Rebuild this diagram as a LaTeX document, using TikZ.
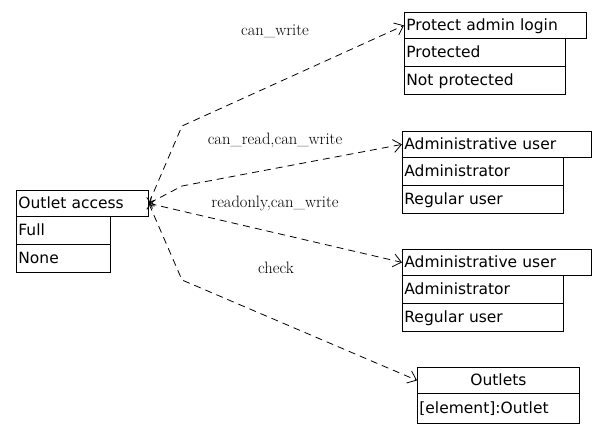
\documentclass[tikz,border=0pt]{standalone}
\usepackage{fontspec}
\newfontfamily\boxfont{DejaVu Sans}
\usetikzlibrary{arrows.meta}

\begin{document}
\begin{tikzpicture}[x = 1pt, y = -1pt, line width = 0.8pt,
    cell/.style = {draw, anchor = north west, inner xsep = 2pt, inner ysep = 0pt, align = left,
        font = \boxfont\fontsize{15.5}{17}\selectfont, text height = 13pt, text depth = 3pt, minimum height = 26pt},
    row/.style = {cell, minimum height = 28pt},
    link/.style = {dashed, dash pattern = on 7pt off 5pt, {To[length=5pt,width=9pt]}-{Straight Barb[length=8pt,width=13pt]}},
    lbl/.style = {font = \fontsize{16.5}{18}\selectfont}]
\useasboundingbox (0,0) rectangle (608,434);
% Outlet access
\node[cell, text width = 128pt] (oa) at (16,190) {Outlet access};
\node[row, text width = 90pt] (oa1) at (16,216) {Full};
\node[row, text width = 90pt] (oa2) at (16,244) {None};
% Protect admin login
\node[cell, text width = 178pt] (pa) at (404,12) {Protect admin login};
\node[row, text width = 157pt] (pa1) at (404,38) {Protected};
\node[row, text width = 157pt] (pa2) at (404,66) {Not protected};
% Administrative user (1)
\node[cell, text width = 185pt] (au) at (402,131) {Administrative user};
\node[row, text width = 157pt] (au1) at (402,157) {Administrator};
\node[row, text width = 157pt] (au2) at (402,185) {Regular user};
% Administrative user (2)
\node[cell, text width = 185pt] (bu) at (402,249) {Administrative user};
\node[row, text width = 157pt] (bu1) at (402,275) {Administrator};
\node[row, text width = 157pt] (bu2) at (402,303) {Regular user};
% Outlets
\node[cell, text width = 158pt, align = center] (ol) at (417,367) {Outlets};
\node[row, text width = 158pt, minimum height = 30pt] (ol1) at (417,393) {[element]:Outlet};

\coordinate (k1) at (182,126);
\coordinate (k2) at (182,186);
\coordinate (k4) at (182,280);

\draw[link] (oa.east) -- (k1) -- (pa.west);
\draw[link] (oa.east) -- (k2) -- (au.west);
\draw[link] (oa.east) -- (bu.west);
\draw[link] (oa.east) -- (k4) -- (ol.west);

\node[lbl] (l1) at (275,31) {can\_write};
\node[lbl] (l2) at (275,140) {can\_read,can\_write};
\node[lbl] (l3) at (275,203) {readonly,can\_write};
\node[lbl] (l4) at (276,268) {check};
\end{tikzpicture}
\end{document}
